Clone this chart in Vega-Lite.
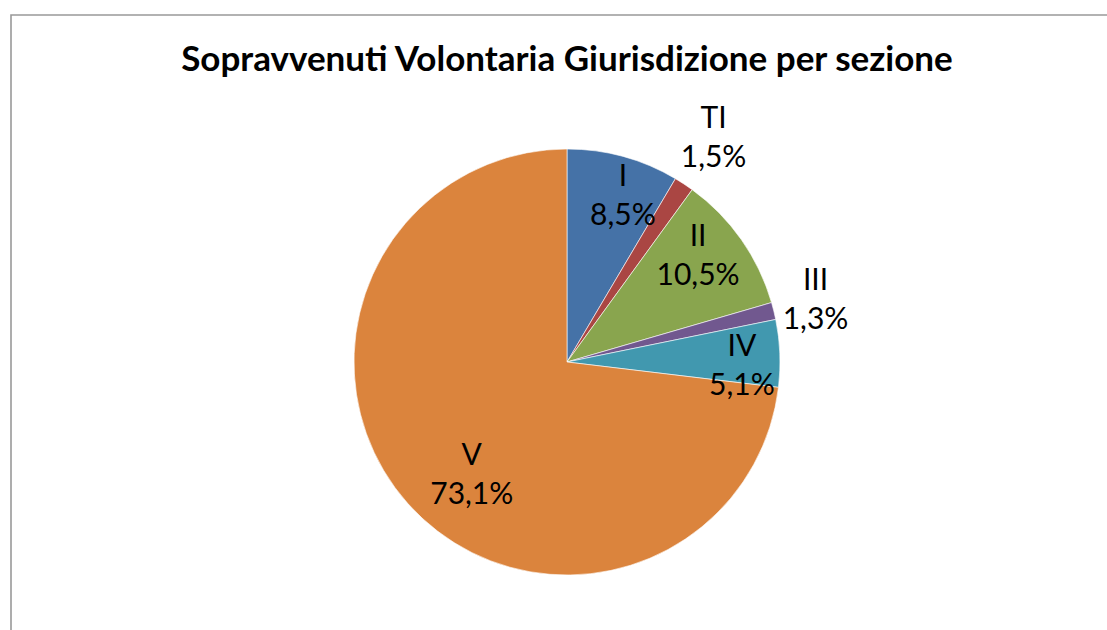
{
  "$schema": "https://vega.github.io/schema/vega-lite/v6.json",
  "width": 1112,
  "height": 694,
  "autosize": {"type": "none"},
  "padding": {"left": 11, "top": 15, "right": 0, "bottom": 0},
  "background": "white",
  "config": {
    "view": {"stroke": null},
    "locale": {"number": {"decimal": ",", "thousands": ".", "grouping": [3], "currency": ["", " €"]}}
  },
  "title": {
    "text": "Sopravvenuti Volontaria Giurisdizione per sezione",
    "font": "Lato",
    "fontSize": 35,
    "fontWeight": "bold",
    "color": "#000000",
    "anchor": "middle",
    "frame": "group",
    "baseline": "alphabetic",
    "offset": -92
  },
  "datasets": {
    "quote": [
      {"sezione": "I", "quota": 0.085, "ordine": 1},
      {"sezione": "TI", "quota": 0.015, "ordine": 2},
      {"sezione": "II", "quota": 0.105, "ordine": 3},
      {"sezione": "III", "quota": 0.013, "ordine": 4},
      {"sezione": "IV", "quota": 0.051, "ordine": 5},
      {"sezione": "V", "quota": 0.731, "ordine": 6}
    ],
    "cornice": [{"cornice": "bordo"}]
  },
  "layer": [
    {
      "data": {"name": "cornice"},
      "mark": {"type": "rect", "fill": null, "stroke": "#999999", "strokeWidth": 1.6},
      "encoding": {}
    },
    {
      "data": {"name": "quote"},
      "encoding": {
        "theta": {"field": "quota", "type": "quantitative", "stack": true},
        "order": {"field": "ordine", "type": "quantitative"}
      },
      "layer": [
        {
          "mark": {"type": "arc", "outerRadius": 213, "stroke": "#ffffff", "strokeWidth": 0.6},
          "encoding": {
            "color": {
              "field": "sezione",
              "type": "nominal",
              "scale": {
                "domain": ["I", "TI", "II", "III", "IV", "V"],
                "range": ["#4572A7", "#AA4643", "#89A54E", "#71588F", "#4198AF", "#DB843D"]
              },
              "legend": null
            }
          }
        },
        {
          "mark": {"type": "text", "radius": 175, "thetaOffset": 0.058, "dy": -19.5, "font": "Lato", "fontSize": 30, "color": "#000000"},
          "encoding": {"text": {"condition": {"test": "datum.sezione === 'I'", "field": "sezione"}, "value": ""}}
        },
        {
          "mark": {"type": "text", "radius": 175, "thetaOffset": 0.058, "dy": 19.5, "font": "Lato", "fontSize": 30, "color": "#000000"},
          "encoding": {"text": {"condition": {"test": "datum.sezione === 'I'", "field": "quota", "format": ".1%"}, "value": ""}}
        },
        {
          "mark": {"type": "text", "radius": 267, "dy": -19.5, "font": "Lato", "fontSize": 30, "color": "#000000"},
          "encoding": {"text": {"condition": {"test": "datum.sezione === 'TI'", "field": "sezione"}, "value": ""}}
        },
        {
          "mark": {"type": "text", "radius": 267, "dy": 19.5, "font": "Lato", "fontSize": 30, "color": "#000000"},
          "encoding": {"text": {"condition": {"test": "datum.sezione === 'TI'", "field": "quota", "format": ".1%"}, "value": ""}}
        },
        {
          "mark": {"type": "text", "radius": 168, "thetaOffset": -0.063, "dy": -19.5, "font": "Lato", "fontSize": 30, "color": "#000000"},
          "encoding": {"text": {"condition": {"test": "datum.sezione === 'II'", "field": "sezione"}, "value": ""}}
        },
        {
          "mark": {"type": "text", "radius": 168, "thetaOffset": -0.063, "dy": 19.5, "font": "Lato", "fontSize": 30, "color": "#000000"},
          "encoding": {"text": {"condition": {"test": "datum.sezione === 'II'", "field": "quota", "format": ".1%"}, "value": ""}}
        },
        {
          "mark": {"type": "text", "radius": 256, "dy": -19.5, "font": "Lato", "fontSize": 30, "color": "#000000"},
          "encoding": {"text": {"condition": {"test": "datum.sezione === 'III'", "field": "sezione"}, "value": ""}}
        },
        {
          "mark": {"type": "text", "radius": 256, "dy": 19.5, "font": "Lato", "fontSize": 30, "color": "#000000"},
          "encoding": {"text": {"condition": {"test": "datum.sezione === 'III'", "field": "quota", "format": ".1%"}, "value": ""}}
        },
        {
          "mark": {"type": "text", "radius": 175, "thetaOffset": 0.068, "dy": -19.5, "font": "Lato", "fontSize": 30, "color": "#000000"},
          "encoding": {"text": {"condition": {"test": "datum.sezione === 'IV'", "field": "sezione"}, "value": ""}}
        },
        {
          "mark": {"type": "text", "radius": 175, "thetaOffset": 0.068, "dy": 19.5, "font": "Lato", "fontSize": 30, "color": "#000000"},
          "encoding": {"text": {"condition": {"test": "datum.sezione === 'IV'", "field": "quota", "format": ".1%"}, "value": ""}}
        },
        {
          "mark": {"type": "text", "radius": 148, "thetaOffset": -0.146, "dy": -19.5, "font": "Lato", "fontSize": 30, "color": "#000000"},
          "encoding": {"text": {"condition": {"test": "datum.sezione === 'V'", "field": "sezione"}, "value": ""}}
        },
        {
          "mark": {"type": "text", "radius": 148, "thetaOffset": -0.146, "dy": 19.5, "font": "Lato", "fontSize": 30, "color": "#000000"},
          "encoding": {"text": {"condition": {"test": "datum.sezione === 'V'", "field": "quota", "format": ".1%"}, "value": ""}}
        }
      ]
    }
  ]
}
